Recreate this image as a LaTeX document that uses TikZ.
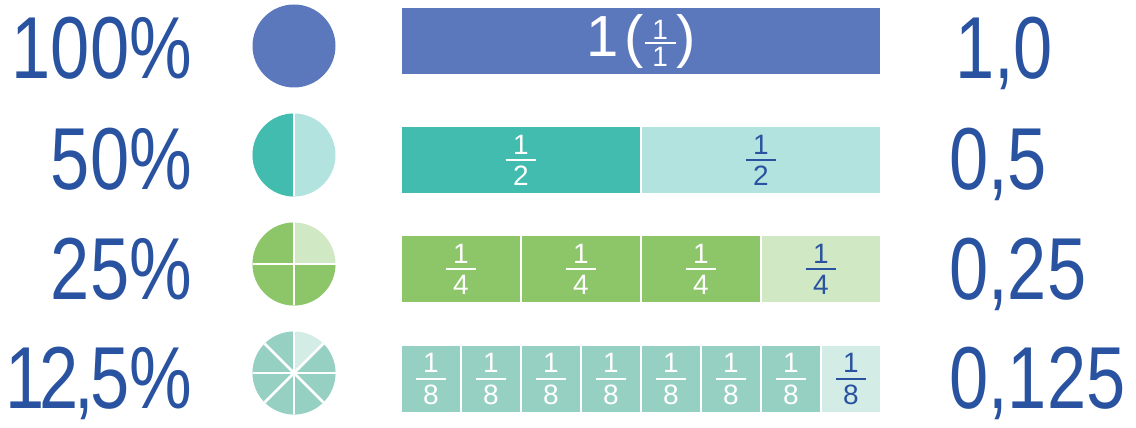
\documentclass[tikz,border=0pt]{standalone}
\usepackage{fontspec}
\setmainfont{Liberation Sans}
\newfontfamily\numfont[FakeStretch=0.8]{Liberation Sans}

\definecolor{numblue}{RGB}{41,83,160}
\definecolor{fullblue}{RGB}{91,120,188}
\definecolor{halfdk}{RGB}{67,188,176}
\definecolor{halflt}{RGB}{179,227,223}
\definecolor{quartdk}{RGB}{140,198,105}
\definecolor{quartlt}{RGB}{208,232,195}
\definecolor{eighthdk}{RGB}{150,208,194}
\definecolor{eighthlt}{RGB}{211,236,230}

% stacked fraction: numerator, bar, denominator
\newcommand{\frc}[3][5pt]{\vbox{\baselineskip=0pt\lineskip=0pt\lineskiplimit=0pt%
  \halign{\hfil##\hfil\cr #2\cr\noalign{\kern#1}\rule{1.1em}{1.6pt}\cr\noalign{\kern#1}#3\cr}}}

\tikzset{
  pct/.style={text=numblue, inner sep=0pt, font=\numfont\fontsize{88}{90}\selectfont},
  cell/.style={draw=white, line width=2.5pt, minimum height=68.5pt, inner sep=0pt, text=white, font=\fontsize{28}{28}\selectfont},
  pie/.style={circle, minimum size=83pt, inner sep=0pt, outer sep=0pt},
  gap/.style={white, line width=2.5pt}
}

\begin{document}
\begin{tikzpicture}[x=1pt, y=1pt]
        \useasboundingbox (0,0) rectangle (1136,428);

        % Percentages on the left
        \node[pct, anchor=base east] (pct100) at (192,349) {100\%};
        \node[pct, anchor=base east] (pct50) at (192,238) {50\%};
        \node[pct, anchor=base east] (pct25) at (192,128) {25\%};
        \node[pct, anchor=base east] (pct125) at (192,19) {1\kern-5pt 2\kern-4pt,\kern-4pt 5\%};

        % Decimals on the right
        \node[pct, anchor=base west] (dec100) at (955,349) {1,0};
        \node[pct, anchor=base west] (dec50) at (949,238) {0,5};
        \node[pct, anchor=base west] (dec25) at (949,128) {0,25};
        \node[pct, anchor=base west] (dec125) at (949,19) {0,125};

        % Pies
        \node[pie, fill=fullblue] (pie1) at (294,382) {};

        \node[pie, fill=halflt] (pie2) at (294,273) {};
        \fill[halfdk] (pie2.center) -- (pie2.90) arc[start angle=90, end angle=270, radius=41.5pt] -- cycle;
        \draw[gap] (pie2.90) -- (pie2.270);

        \node[pie, fill=quartlt] (pie3) at (294,164) {};
        \fill[quartdk] (pie3.center) -- (pie3.90) arc[start angle=90, end angle=360, radius=41.5pt] -- cycle;
        \foreach \a in {0,90,180,270}
            \draw[gap] (pie3.center) -- (pie3.\a);

        \node[pie, fill=eighthlt] (pie4) at (294,55) {};
        \fill[eighthdk] (pie4.center) -- (pie4.90) arc[start angle=90, end angle=405, radius=41.5pt] -- cycle;
        \foreach \a in {0,45,...,315}
            \draw[gap] (pie4.center) -- (pie4.\a);

        % Bars
        \node[cell, fill=fullblue, minimum width=480pt] (full) at (641,387) {%
            \fontsize{58}{60}\selectfont 1\kern6pt(\kern1pt\raisebox{-10pt}{\fontsize{28}{28}\selectfont\frc[3pt]{1}{1}}\kern1pt)};

        \node[cell, fill=halfdk, minimum width=240pt] (half1) at (521,268) {\frc{1}{2}};
        \node[cell, fill=halflt, minimum width=240pt, text=numblue] (half2) at (761,268) {\frc{1}{2}};

        \foreach \i in {1,2,3}
            \node[cell, fill=quartdk, minimum width=120pt] (quart\i) at (341+120*\i,159) {\frc{1}{4}};
        \node[cell, fill=quartlt, minimum width=120pt, text=numblue] (quart4) at (821,159) {\frc{1}{4}};

        \foreach \i in {1,...,7}
            \node[cell, fill=eighthdk, minimum width=60pt] (eighth\i) at (371+60*\i,49) {\frc{1}{8}};
        \node[cell, fill=eighthlt, minimum width=60pt, text=numblue] (eighth8) at (851,49) {\frc{1}{8}};
\end{tikzpicture}
\end{document}
